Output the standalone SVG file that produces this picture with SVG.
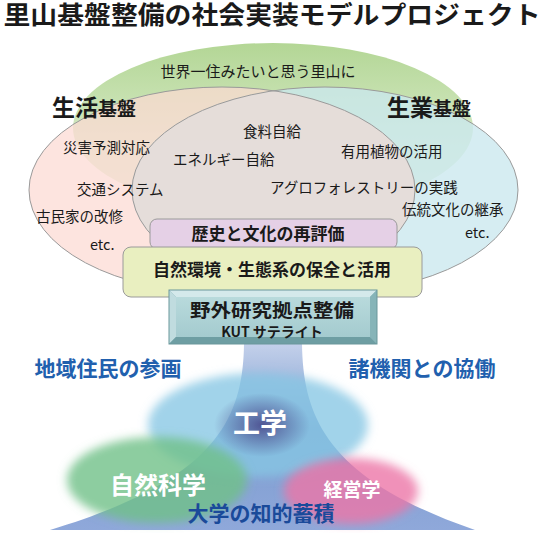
<svg xmlns="http://www.w3.org/2000/svg" width="546" height="533" viewBox="0 0 546 533">
<style>
text{font-family:"Noto Sans CJK JP","Noto Sans",sans-serif;fill:#1a1a1a}
.s{font-size:14.5px}
.b{font-weight:bold}
.w{fill:#ffffff;font-weight:bold}
.blue{fill:#2160ae;font-weight:bold}
.edge{fill:none;stroke:#9a9a9a;stroke-width:1}
</style>
<defs>
<linearGradient id="gGreen" x1="0" y1="0" x2="0" y2="1">
<stop offset="0" stop-color="#b3d695"/>
<stop offset="0.6" stop-color="#d6eac6"/>
<stop offset="1" stop-color="#e6f1dc"/>
</linearGradient>
<linearGradient id="gFunnel" x1="0" y1="344" x2="0" y2="530" gradientUnits="userSpaceOnUse">
<stop offset="0" stop-color="#c3d0ea"/>
<stop offset="0.45" stop-color="#7c9ccf"/>
<stop offset="1" stop-color="#8fa8da"/>
</linearGradient>
<linearGradient id="gFace" x1="0" y1="0" x2="0" y2="1">
<stop offset="0" stop-color="#b8dadc"/>
<stop offset="1" stop-color="#a4cbcf"/>
</linearGradient>
<radialGradient id="gDark">
<stop offset="0" stop-color="#4a4a8c" stop-opacity="0.9"/>
<stop offset="1" stop-color="#4a4a8c" stop-opacity="0"/>
</radialGradient>
<clipPath id="cTeal"><ellipse cx="325" cy="190" rx="193" ry="103"/></clipPath>
<filter id="blur" x="-20%" y="-30%" width="140%" height="160%"><feGaussianBlur stdDeviation="5"/></filter>
</defs>

<rect width="546" height="533" fill="#ffffff"/>

<g id="title">
<text x="272" y="24" font-size="25" class="b" text-anchor="middle" textLength="537" lengthAdjust="spacingAndGlyphs">里山基盤整備の社会実装モデルプロジェクト</text>
</g>

<g id="vision">
<ellipse cx="273" cy="128" rx="200" ry="85" fill="url(#gGreen)"/>
<text x="258" y="77" font-size="15" text-anchor="middle">世界一住みたいと思う里山に</text>
</g>

<g id="seikatsu">
<ellipse cx="222" cy="190" rx="193" ry="103" fill="#fcd9d3" fill-opacity="0.72"/>
</g>
<g id="seigyou">
<ellipse cx="325" cy="190" rx="193" ry="103" fill="#cbe8ee" fill-opacity="0.78"/>
</g>
<g id="overlap">
<ellipse cx="222" cy="190" rx="193" ry="103" fill="#e6dcd8" fill-opacity="0.92" clip-path="url(#cTeal)"/>
<ellipse class="edge" cx="222" cy="190" rx="193" ry="103"/>
<ellipse class="edge" cx="325" cy="190" rx="193" ry="103"/>
</g>

<g id="labels">
<text x="52" y="116" class="b"><tspan font-size="23">生活</tspan><tspan font-size="19">基盤</tspan></text>
<text x="387" y="116" class="b"><tspan font-size="23">生業</tspan><tspan font-size="19">基盤</tspan></text>
<text x="63" y="153" class="s">災害予測対応</text>
<text x="77" y="195" class="s">交通システム</text>
<text x="36" y="222" class="s">古民家の改修</text>
<text x="90" y="250" class="s">etc.</text>
<text x="243" y="137" class="s">食料自給</text>
<text x="173" y="165" class="s">エネルギー自給</text>
<text x="341" y="157" class="s">有用植物の活用</text>
<text x="270" y="193" class="s">アグロフォレストリーの実践</text>
<text x="402" y="215" class="s">伝統文化の継承</text>
<text x="465" y="238" class="s">etc.</text>
</g>

<g id="rekishi">
<rect x="150" y="219" width="247" height="30" rx="7" fill="#e5d0e6" stroke="#9a9a9a"/>
<text x="268" y="240" font-size="17" class="b" text-anchor="middle">歴史と文化の再評価</text>
</g>

<g id="shizen">
<rect x="123" y="247" width="299" height="50" rx="8" fill="#e9efc0" stroke="#9a9a9a"/>
<text x="272" y="276" font-size="17" class="b" text-anchor="middle">自然環境・生態系の保全と活用</text>
</g>

<g id="funnel">
<path d="M244,344 L302,344 C303,420 330,480 475,530 L50,530 C215,480 243,420 244,344 Z" fill="url(#gFunnel)"/>
</g>

<g id="kyoten">
<rect x="169" y="290" width="208" height="54" fill="#7eaeb2"/>
<polygon points="169,290 377,290 370,297 176,297" fill="#d4e9eb"/>
<polygon points="169,290 176,297 176,337 169,344" fill="#c0dcdf"/>
<polygon points="169,344 176,337 370,337 377,344" fill="#6e9ea3"/>
<polygon points="377,290 377,344 370,337 370,297" fill="#86b4b8"/>
<rect x="176" y="297" width="194" height="40" fill="url(#gFace)"/>
<rect x="169" y="290" width="208" height="54" fill="none" stroke="#6a979b" stroke-width="1"/>
<text x="272" y="317" font-size="18.5" class="b" text-anchor="middle" textLength="164" lengthAdjust="spacingAndGlyphs">野外研究拠点整備</text>
<text x="272" y="337" font-size="14" class="b" text-anchor="middle">KUT サテライト</text>
</g>

<g id="kougaku">
<ellipse cx="258" cy="425" rx="110" ry="52" fill="#86c6e4" fill-opacity="0.78" filter="url(#blur)"/>
<ellipse cx="262" cy="425" rx="48" ry="32" fill="url(#gDark)"/>
<text x="260" y="433" font-size="27" class="w" text-anchor="middle">工学</text>
</g>

<g id="shizenkagaku">
<ellipse cx="157" cy="480" rx="90" ry="43" fill="#6fc088" fill-opacity="0.8" filter="url(#blur)"/>
<text x="158" y="494" font-size="24" class="w" text-anchor="middle">自然科学</text>
</g>

<g id="keiei">
<ellipse cx="351" cy="491" rx="67" ry="33" fill="#ec76a8" fill-opacity="0.8" filter="url(#blur)"/>
<text x="352" y="497" font-size="19" class="w" text-anchor="middle">経営学</text>
</g>

<g id="chiteki">
<text x="261" y="521" font-size="21" text-anchor="middle" style="fill:#1a4a9a;font-weight:bold">大学の知的蓄積</text>
</g>

<g id="juumin">
<text x="108" y="376" font-size="21" class="blue" text-anchor="middle">地域住民の参画</text>
</g>
<g id="kikan">
<text x="422" y="376" font-size="21" class="blue" text-anchor="middle">諸機関との協働</text>
</g>
</svg>
